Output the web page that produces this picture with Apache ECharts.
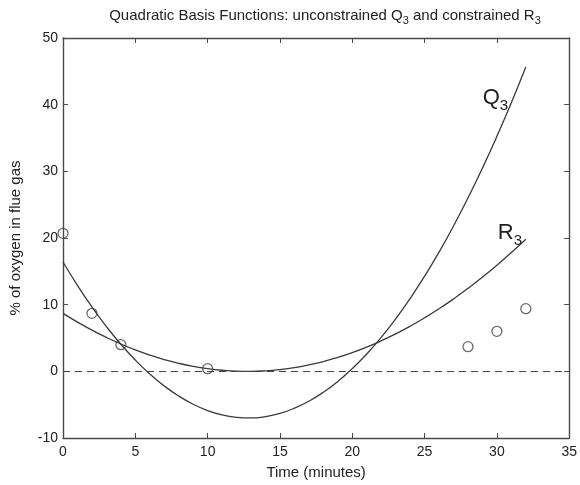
<!DOCTYPE html>
<html>
<head>
<meta charset="utf-8">
<script src="https://cdn.jsdelivr.net/npm/echarts@6/dist/echarts.min.js"></script>
<style>
  html, body { margin: 0; padding: 0; background: #fff; }
  #chart { width: 580px; height: 485px; }
</style>
</head>
<body>
<div id="chart"></div>
<script>
// Sample times (minutes) for the fitted curves
var curveTimes = [0,1,2,3,4,5,6,7,8,9,10,11,12,13,14,15,16,17,18,19,20,21,22,23,24,25,26,27,28,29,30,31,32];
// Unconstrained quadratic Q3
var q3Values = [16.40,12.89,9.66,6.72,4.06,1.69,-0.39,-2.19,-3.71,-4.94,-5.88,-6.53,-6.91,-6.99,-6.79,-6.31,-5.53,-4.48,-3.14,-1.51,0.41,2.60,5.09,7.86,10.92,14.26,17.88,21.80,26.00,30.48,35.25,40.30,45.64];
// Constrained quadratic R3
var r3Values = [8.70,7.39,6.18,5.09,4.10,3.21,2.44,1.77,1.21,0.75,0.40,0.16,0.03,0.00,0.08,0.27,0.56,0.97,1.47,2.09,2.81,3.64,4.58,5.62,6.77,8.03,9.39,10.86,12.44,14.13,15.92,17.82,19.82];
// Measured oxygen readings
var obsTimes = [0, 2, 4, 10, 28, 30, 32];
var obsValues = [20.7, 8.7, 4.0, 0.4, 3.7, 6.0, 9.4];
// Axis ticks
var xTicks = [0, 5, 10, 15, 20, 25, 30, 35];
var yTicks = [-10, 0, 10, 20, 30, 40, 50];

function pairs(xs, ys) { return xs.map(function (x, i) { return [x, ys[i]]; }); }

var FONT = '"Liberation Sans", Arial, sans-serif';
var AXIS_COLOR = '#4a4a4a';
var LINE_COLOR = '#3a3a3a';
var TEXT_COLOR = '#222';

function baseAxis(extra) {
  var a = {
    type: 'value',
    axisLine: { show: true, onZero: false, lineStyle: { color: AXIS_COLOR, width: 1.4 } },
    axisTick: { show: true, inside: true, length: 5, lineStyle: { color: AXIS_COLOR, width: 1 } },
    splitLine: { show: false },
    axisLabel: { color: TEXT_COLOR, fontFamily: FONT, fontSize: 14 }
  };
  for (var k in extra) a[k] = extra[k];
  return a;
}

// Curve label with a subscript index, anchored in data space
function curveLabel(letter, coord) {
  return {
    symbol: 'circle', symbolSize: 1,
    itemStyle: { color: 'rgba(0,0,0,0)' },
    data: [{ coord: coord, value: 0 }],
    label: {
      show: true, position: 'inside', formatter: letter + '{s|3}', color: TEXT_COLOR,
      fontFamily: FONT, fontSize: 22,
      rich: { s: { fontFamily: FONT, fontSize: 15, color: TEXT_COLOR, padding: [16, 0, 0, 0] } }
    }
  };
}

var chart = echarts.init(document.getElementById('chart'), null, { renderer: 'canvas' });

chart.setOption({
  backgroundColor: '#fff',
  animation: false,
  title: {
    text: 'Quadratic Basis Functions: unconstrained Q{s|3} and constrained R{s|3}',
    left: 320, top: 0, textAlign: 'center',
    textStyle: {
      fontFamily: FONT, fontSize: 15, fontWeight: 'normal', color: TEXT_COLOR,
      rich: { s: { fontFamily: FONT, fontSize: 11, color: TEXT_COLOR, padding: [10, 0, 0, 0] } }
    }
  },
  grid: { left: 62, right: 7, top: 38, bottom: 44 },
  xAxis: [
    baseAxis({
      min: xTicks[0], max: xTicks[xTicks.length - 1], interval: 5, position: 'bottom',
      name: 'Time (minutes)', nameLocation: 'middle', nameGap: 27,
      nameTextStyle: { fontFamily: FONT, fontSize: 15, color: TEXT_COLOR },
      axisLabel: { color: TEXT_COLOR, fontFamily: FONT, fontSize: 14, margin: 7 }
    }),
    baseAxis({
      min: xTicks[0], max: xTicks[xTicks.length - 1], interval: 5, position: 'top',
      axisLabel: { show: false }
    })
  ],
  yAxis: [
    baseAxis({
      min: yTicks[0], max: yTicks[yTicks.length - 1], interval: 10, position: 'left',
      name: '% of oxygen in flue gas', nameLocation: 'middle', nameGap: 40,
      nameTextStyle: { fontFamily: FONT, fontSize: 15, color: TEXT_COLOR },
      axisLabel: { color: TEXT_COLOR, fontFamily: FONT, fontSize: 14, margin: 5 }
    }),
    baseAxis({
      min: yTicks[0], max: yTicks[yTicks.length - 1], interval: 10, position: 'right',
      axisLabel: { show: false }
    })
  ],
  series: [
    {
      name: 'Q3', type: 'line', data: pairs(curveTimes, q3Values),
      smooth: true, showSymbol: false, symbol: 'none',
      lineStyle: { color: LINE_COLOR, width: 1.3 },
      markPoint: curveLabel('Q', [29.9, 41.0]),
      markLine: {
        silent: true, symbol: 'none',
        data: [{ yAxis: 0 }],
        label: { show: false },
        lineStyle: { color: '#444', type: [7, 5], width: 1.1 }
      }
    },
    {
      name: 'R3', type: 'line', data: pairs(curveTimes, r3Values),
      smooth: true, showSymbol: false, symbol: 'none',
      lineStyle: { color: LINE_COLOR, width: 1.3 },
      markPoint: curveLabel('R', [30.9, 20.8])
    },
    {
      name: 'observed', type: 'scatter', data: pairs(obsTimes, obsValues),
      symbol: 'circle', symbolSize: 10,
      itemStyle: { color: 'rgba(255,255,255,0)', borderColor: '#444', borderWidth: 1.3 },
      z: 3
    }
  ]
});
</script>
</body>
</html>
